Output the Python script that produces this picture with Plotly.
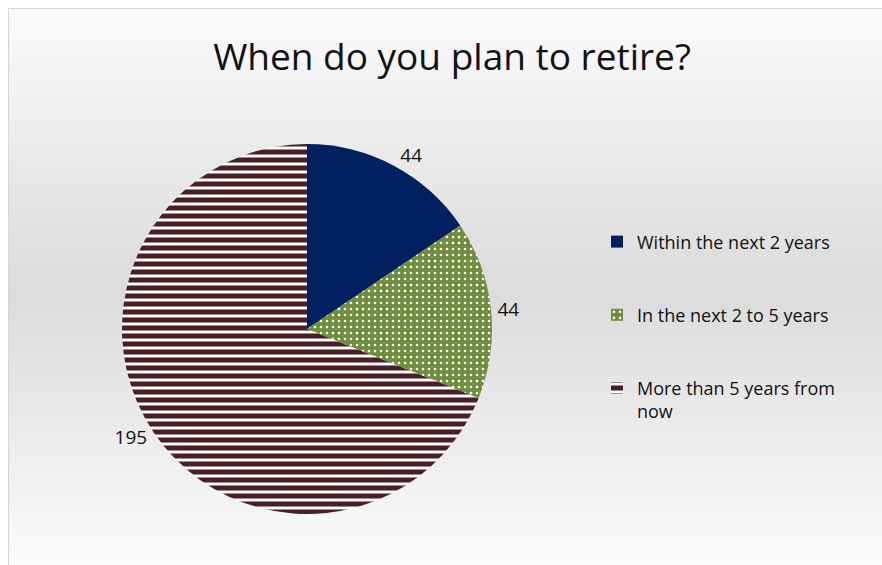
import plotly.graph_objects as go

# ---- data ----
categories = ["Within the next 2 years", "In the next 2 to 5 years", "More than 5 years from now"]
values = [44, 44, 195]
legend_labels = ["\u00a0<br>Within the next 2 years<br>\u00a0",
                 "\u00a0<br>In the next 2 to 5 years<br>\u00a0",
                 "\u00a0<br>More than 5 years from<br>now"]
colors = ["#002060", "#6E8E3E", "#4B1D25"]
shapes_pat = ["", ".", "-"]
title_text = "When do you plan to retire?"

W, H = 882, 565
FONT = "Open Sans"

fig = go.Figure()
fig.add_trace(go.Pie(
    labels=legend_labels,
    values=values,
    sort=False,
    direction="clockwise",
    rotation=0,
    textinfo="value",
    textposition="outside",
    textfont=dict(family=FONT, size=19, color="#111111"),
    hovertext=categories,
    hoverinfo="text+value",
    marker=dict(
        colors=colors,
        line=dict(width=0),
        pattern=dict(
            shape=shapes_pat,
            fgcolor=["#ffffff", "#ffffff", "#ffffff"],
            bgcolor=colors,
            size=[8, 6, 8],
            solidity=[0.3, 0.15, 0.37],
            fillmode="replace",
        ),
    ),
    domain=dict(x=[122 / W, 492 / W], y=[1 - 514 / H, 1 - 144 / H]),
))

# gradient background (vertical) inside frame
shapes = []
top, mid, bot = 8, 290, 565
N = 90
for i in range(N):
    y0p = top + (bot - top) * i / N
    y1p = top + (bot - top) * (i + 1) / N
    yc = (y0p + y1p) / 2
    if yc <= mid:
        v = 251 + (219 - 251) * (yc - top) / (mid - top)
    else:
        v = 219 + (251 - 219) * (yc - mid) / (bot - mid)
    v = int(round(v))
    shapes.append(dict(type="rect", xref="paper", yref="paper",
                       x0=8 / W, x1=1.0, y0=1 - y1p / H - 0.001, y1=1 - y0p / H,
                       fillcolor=f"rgb({v},{v},{v})", line=dict(width=0), layer="below"))
shapes.append(dict(type="rect", xref="paper", yref="paper",
                   x0=8.5 / W, x1=1.01, y0=-0.01, y1=1 - 8.5 / H,
                   fillcolor="rgba(0,0,0,0)", line=dict(color="#d6d6d6", width=1), layer="below"))

fig.update_layout(
    width=W, height=H,
    margin=dict(l=0, r=0, t=0, b=0),
    paper_bgcolor="white",
    plot_bgcolor="white",
    shapes=shapes,
    title=dict(text=title_text, x=452 / W, xanchor="center", y=1 - 57 / H, yanchor="middle",
               font=dict(family=FONT, size=37, color="#111111")),
    showlegend=True,
    legend=dict(x=597 / W, xanchor="left", y=1 - 200 / H, yanchor="top",
                font=dict(family=FONT, size=18, color="#111111"),
                bgcolor="rgba(0,0,0,0)", borderwidth=0, tracegroupgap=0),
    font=dict(family=FONT),
)

fig.write_html("out.html")
